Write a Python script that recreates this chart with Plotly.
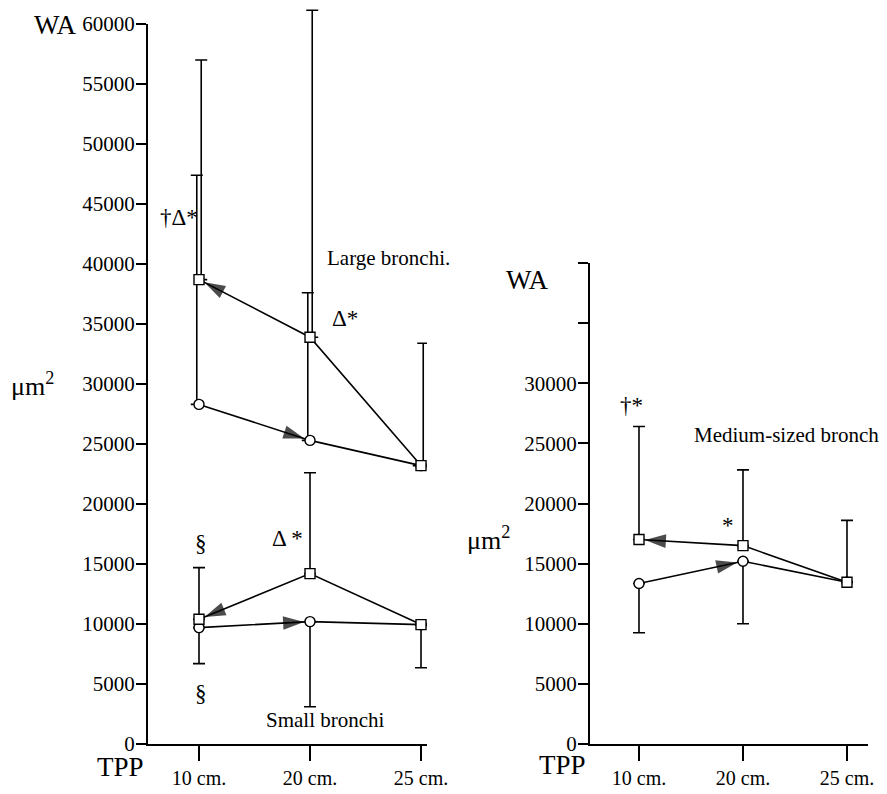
import plotly.graph_objects as go

# ---------------- data ----------------
positions = [0, 1, 2]
tpp_labels = ["10 cm.", "20 cm.", "25 cm."]

# Large bronchi (left panel, upper group)
large_sq = [38700, 33900, 23200]
large_sq_up = [18300, 27250, 10200]
large_ci = [28300, 25300, 23200]
large_ci_up = [19100, 12300, 0]

# Small bronchi (left panel, lower group)
small_sq = [10400, 14200, 9950]
small_sq_up = [4300, 8400, 0]
small_sq_down = [0, 0, 3600]
small_ci = [9700, 10200, 9950]
small_ci_down = [3000, 7100, 0]

# Medium-sized bronchi (right panel)
medium_sq = [17000, 16500, 13450]
medium_sq_up = [9400, 6300, 5150]
medium_ci = [13350, 15200, 13450]
medium_ci_down = [4100, 5200, 0]

left_yticks = list(range(0, 60001, 5000))
right_yticks = list(range(0, 40001, 5000))
right_yticklabels = [str(v) if v <= 30000 else "" for v in right_yticks]

# ---------------- styling ----------------
PAGE_W, PAGE_H = 887, 794
BODY_MARGIN = 8          # default page margin around the plot div
W, H = PAGE_W - BODY_MARGIN, PAGE_H - BODY_MARGIN
FONT = "Liberation Serif"
BLACK = "black"


def px(x):
    return (x - BODY_MARGIN) / W


def py(y):
    return 1 - (y - BODY_MARGIN) / H


fig = go.Figure()


def add_errors(xa, ya, x, y, up, down, shift=0.0):
    fig.add_trace(go.Scatter(
        x=[v + shift for v in x], y=y, mode="markers",
        marker=dict(size=1, opacity=0),
        error_y=dict(type="data", symmetric=False, array=up, arrayminus=down,
                     color=BLACK, thickness=1.6, width=6),
        xaxis=xa, yaxis=ya, showlegend=False, hoverinfo="skip",
    ))


def add_series(xa, ya, x, y, symbol):
    fig.add_trace(go.Scatter(
        x=x, y=y, mode="lines+markers",
        line=dict(color=BLACK, width=1.6),
        marker=dict(symbol=symbol, size=10, color="white",
                    line=dict(color=BLACK, width=1.4)),
        xaxis=xa, yaxis=ya, showlegend=False, cliponaxis=False,
    ))


def add_arrow(xa, ya, x_from, y_from, x_to, y_to):
    fig.add_trace(go.Scatter(
        x=[x_from, x_to], y=[y_from, y_to], mode="markers",
        marker=dict(symbol="arrow", size=[0, 22], color=BLACK,
                    angleref="previous", standoff=[0, 6],
                    line=dict(width=0)),
        xaxis=xa, yaxis=ya, showlegend=False, hoverinfo="skip",
        cliponaxis=False,
    ))


zeros = [0, 0, 0]
# The left panel's marks live on a hidden twin axis pair (x3/y3) that has
# exactly the same scale as the visible x/y axes but extends a little higher,
# so the error bar that exceeds 60000 is not clipped.
L_X, L_Y = "x3", "y3"

# empty trace so the visible left axes are drawn
fig.add_trace(go.Scatter(x=[], y=[], xaxis="x", yaxis="y", showlegend=False))

# error bars (drawn first so markers sit on top)
add_errors(L_X, L_Y, positions, large_ci, large_ci_up, zeros, shift=-0.02)
add_errors(L_X, L_Y, positions, large_sq, large_sq_up, zeros, shift=0.02)
add_errors(L_X, L_Y, positions, small_sq, small_sq_up, small_sq_down)
add_errors(L_X, L_Y, positions, small_ci, zeros, small_ci_down)
add_errors("x2", "y2", positions, medium_sq, medium_sq_up, zeros)
add_errors("x2", "y2", positions, medium_ci, zeros, medium_ci_down)

# series
add_series(L_X, L_Y, positions, large_ci, "circle")
add_series(L_X, L_Y, positions, large_sq, "square")
add_series(L_X, L_Y, positions, small_ci, "circle")
add_series(L_X, L_Y, positions, small_sq, "square")
add_series("x2", "y2", positions, medium_ci, "circle")
add_series("x2", "y2", positions, medium_sq, "square")

# arrows: square lines point back to 10 cm, circle lines point to 20 cm
add_arrow(L_X, L_Y, positions[1], large_sq[1], positions[0], large_sq[0])
add_arrow(L_X, L_Y, positions[0], large_ci[0], positions[1], large_ci[1])
add_arrow(L_X, L_Y, positions[1], small_sq[1], positions[0], small_sq[0])
add_arrow(L_X, L_Y, positions[0], small_ci[0], positions[1], small_ci[1])
add_arrow("x2", "y2", positions[1], medium_sq[1], positions[0], medium_sq[0])
add_arrow("x2", "y2", positions[0], medium_ci[0], positions[1], medium_ci[1])

axis_common = dict(showline=True, linecolor=BLACK, linewidth=2, showgrid=False,
                   zeroline=False, ticks="outside", tickcolor=BLACK,
                   tickwidth=1.8, automargin=False)

LEFT_X_DOMAIN = [px(148), px(427)]
LEFT_X_RANGE = [-0.4595, 2.054]
Y_PER_PX = 60000 / 720.0
TWIN_TOP_PX = 9
TWIN_TOP = (744 - TWIN_TOP_PX) * Y_PER_PX

fig.update_layout(
    width=W, height=H,
    margin=dict(l=0, r=0, t=0, b=0, autoexpand=False),
    paper_bgcolor="white", plot_bgcolor="rgba(0,0,0,0)",
    font=dict(family=FONT, color=BLACK),
    xaxis=dict(domain=LEFT_X_DOMAIN, range=LEFT_X_RANGE,
               tickvals=positions, ticktext=tpp_labels, ticklen=15,
               tickfont=dict(size=20, family=FONT), anchor="y",
               **axis_common),
    yaxis=dict(domain=[py(744), py(24)], range=[0, 60000],
               tickvals=left_yticks, ticktext=[str(v) for v in left_yticks],
               ticklen=10, ticklabelstandoff=-3,
               tickfont=dict(size=21, family=FONT), anchor="x",
               **axis_common),
    xaxis2=dict(domain=[px(590), px(868)], range=[-0.471, 2.202],
                tickvals=positions, ticktext=tpp_labels, ticklen=15,
                tickfont=dict(size=20, family=FONT), anchor="y2",
                **axis_common),
    yaxis2=dict(domain=[py(744), py(263)], range=[0, 40000],
                tickvals=right_yticks, ticktext=right_yticklabels,
                ticklen=10, ticklabelstandoff=-3,
                tickfont=dict(size=21, family=FONT), anchor="x2",
                **axis_common),
    xaxis3=dict(domain=LEFT_X_DOMAIN, range=LEFT_X_RANGE, visible=False,
                anchor="y3", automargin=False),
    yaxis3=dict(domain=[py(744), py(TWIN_TOP_PX)],
                range=[0, TWIN_TOP], visible=False, anchor="x3",
                automargin=False),
)


def label(text, x, y, size, xanchor="center"):
    fig.add_annotation(text=text, x=px(x), y=py(y), xref="paper", yref="paper",
                       showarrow=False, xanchor=xanchor, yanchor="middle",
                       font=dict(family=FONT, size=size, color=BLACK))


# axis titles
label("WA", 55, 25, 27)
label("μm<sup>2</sup>", 32, 384, 26)
label("TPP", 121, 767, 27)
label("WA", 527, 280, 27)
label("μm<sup>2</sup>", 488, 538, 26)
label("TPP", 562, 765, 27)

# panel labels and significance marks
label("†Δ*", 179, 217, 23)
label("Large bronchi.", 325, 258, 21, xanchor="left")
label("Δ*", 345, 318, 23)
label("§", 201, 543, 23)
label("§", 201, 693, 23)
label("Δ *", 287, 538, 23)
label("Small bronchi", 264, 720, 21, xanchor="left")
label("†*", 631, 405, 23)
label("Medium-sized bronchi.", 692, 435, 21, xanchor="left")
label("*", 728, 525, 23)

fig.write_html("out.html")
